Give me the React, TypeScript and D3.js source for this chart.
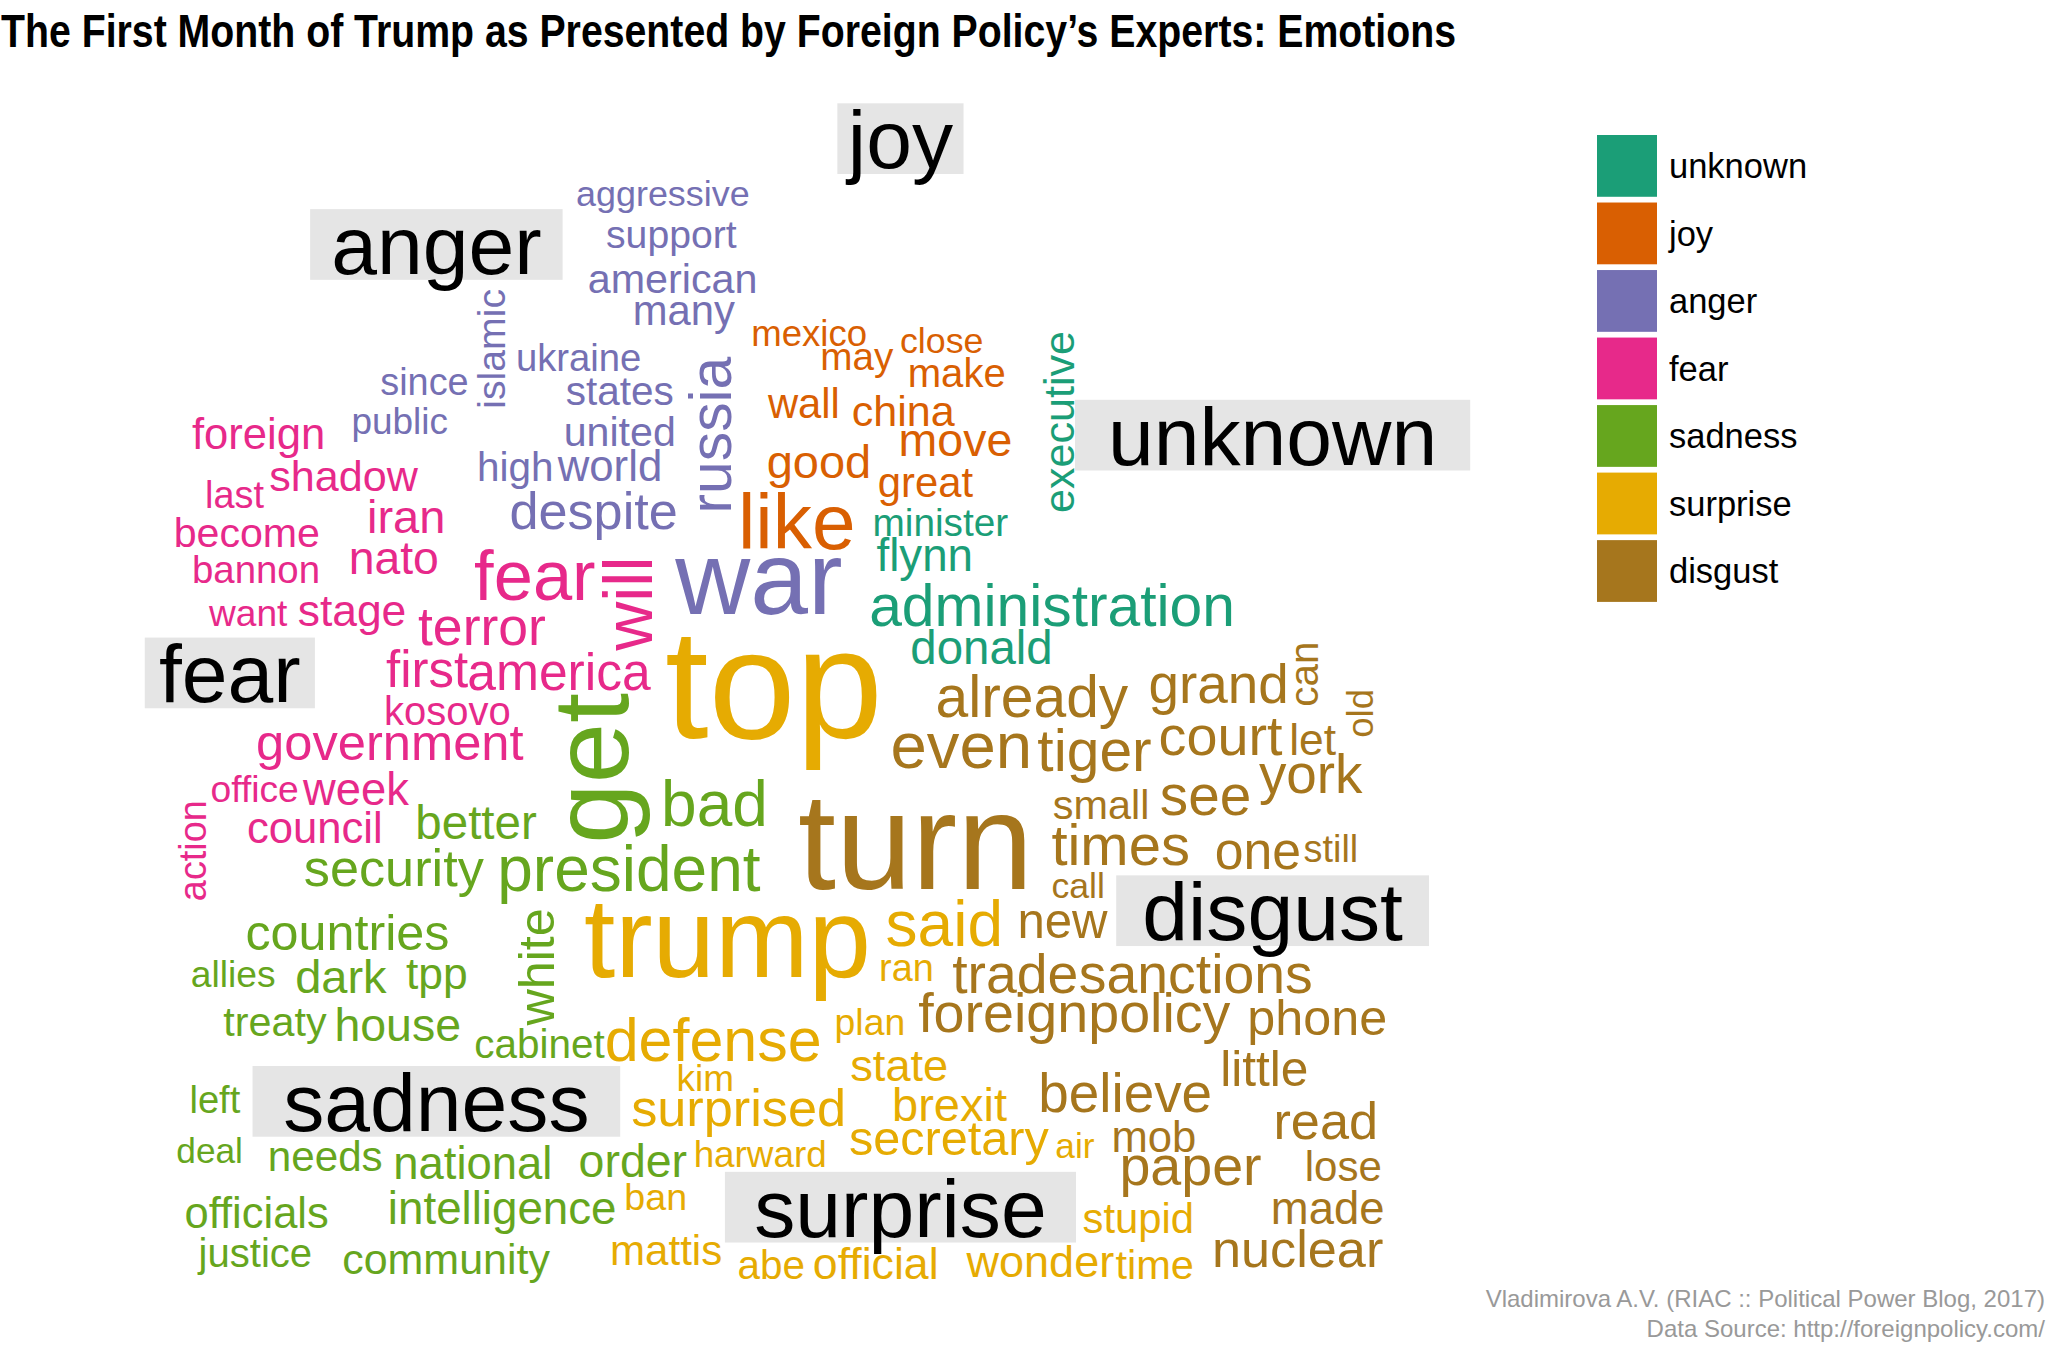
import React, { useEffect } from "react";
import * as d3 from "d3";

const W = 2048;
const H = 1355;
const REF_W = 1568;
const REF_H = 1037;

const TITLE = "The First Month of Trump as Presented by Foreign Policy\u2019s Experts: Emotions";
const CAPTION = ["Vladimirova A.V. (RIAC :: Political Power Blog, 2017)", "Data Source: http://foreignpolicy.com/"];

const emotions = ["unknown", "joy", "anger", "fear", "sadness", "surprise", "disgust"];
const palette = d3.schemeDark2.slice(0, 7);

// word, relative size (per emotion)
const unknownWords: [string, number][] = [
  ["executive", 33], ["minister", 29.7], ["flynn", 35], ["administration", 45], ["donald", 36.3],
];
const joyWords: [string, number][] = [
  ["mexico", 28], ["close", 27.4], ["may", 29.6], ["make", 30.7], ["wall", 32], ["china", 33],
  ["move", 35.6], ["good", 36], ["great", 32], ["like", 60],
];
const angerWords: [string, number][] = [
  ["aggressive", 27.5], ["support", 30], ["american", 31.6], ["many", 32], ["islamic", 30],
  ["ukraine", 29.3], ["since", 29], ["states", 31], ["public", 28.3], ["united", 31.5],
  ["russia", 45], ["high", 31], ["world", 33.5], ["despite", 40], ["war", 79.5],
];
const fearWords: [string, number][] = [
  ["foreign", 33.4], ["shadow", 33], ["last", 29], ["iran", 36], ["become", 31.5], ["nato", 35.5],
  ["bannon", 29.4], ["fear", 54], ["will", 52], ["want", 28.4], ["stage", 34], ["terror", 41],
  ["first", 39], ["america", 39.5], ["kosovo", 30.6], ["government", 38.8], ["office", 28.5],
  ["week", 34.7], ["council", 33.4], ["action", 29],
];
const sadnessWords: [string, number][] = [
  ["get", 83], ["bad", 49], ["better", 36.4], ["security", 40], ["president", 49], ["countries", 38.5],
  ["white", 38.5], ["allies", 28.5], ["dark", 36], ["tpp", 34], ["treaty", 31.6], ["house", 35.6],
  ["cabinet", 31], ["left", 29.2], ["deal", 27], ["needs", 32.3], ["national", 34.8], ["order", 35.6],
  ["officials", 33.3], ["intelligence", 35], ["justice", 30.7], ["community", 32.9],
];
const surpriseWords: [string, number][] = [
  ["top", 120], ["trump", 86], ["said", 49], ["ran", 29], ["defense", 46.7], ["plan", 28.6],
  ["state", 34.6], ["kim", 28.3], ["surprised", 40], ["brexit", 36], ["secretary", 37.2], ["air", 27],
  ["harward", 28.2], ["ban", 28.8], ["mattis", 32.2], ["abe", 31], ["official", 34.2], ["stupid", 32],
  ["wonder", 34.5], ["time", 31.8],
];
const disgustWords: [string, number][] = [
  ["turn", 104.5], ["already", 45], ["grand", 42], ["can", 31], ["old", 28], ["even", 50],
  ["tiger", 45], ["court", 42.7], ["let", 34], ["york", 42], ["small", 31.7], ["see", 43.4],
  ["times", 44.4], ["one", 39.6], ["still", 29], ["call", 27.3], ["new", 37.6], ["trade", 42.4],
  ["sanctions", 42.4], ["foreignpolicy", 42.6], ["phone", 38.5], ["little", 38], ["believe", 42],
  ["read", 40], ["mob", 33.4], ["paper", 42.6], ["lose", 32.2], ["made", 34.8], ["nuclear", 40],
];

const wordGroups = [unknownWords, joyWords, angerWords, fearWords, sadnessWords, surpriseWords, disgustWords];

// cloud layout (reference layout units): word, x, y, rotated
// horizontal: x = centre, y = baseline; rotated: x = baseline, y = centre
const placement: [string, number, number, number][] = [
  ["aggressive", 507.5, 158, 0], ["support", 514, 190, 0], ["american", 515, 224, 0], ["many", 523.5, 249, 0],
  ["islamic", 387, 267, 1], ["ukraine", 443, 284, 0], ["since", 325, 302, 0], ["states", 474.5, 310, 0],
  ["public", 306, 332, 0], ["united", 474.5, 341, 0], ["russia", 560, 333, 1], ["high", 394.5, 368, 0],
  ["world", 467, 368, 0], ["despite", 454.5, 405, 0], ["war", 581, 470, 0],
  ["mexico", 619.5, 265, 0], ["close", 721, 270, 0], ["may", 656, 283, 0], ["make", 732.5, 296, 0],
  ["wall", 615.5, 320, 0], ["china", 691.5, 326, 0], ["move", 731.5, 349, 0], ["good", 627, 366, 0],
  ["great", 708.5, 380, 0], ["like", 610, 420, 0],
  ["executive", 822, 323, 1], ["minister", 720, 410, 0], ["flynn", 708, 437, 0],
  ["administration", 805.5, 479, 0], ["donald", 751.5, 508, 0],
  ["foreign", 198, 344, 0], ["shadow", 263, 376, 0], ["last", 179.5, 389, 0], ["iran", 311, 408, 0],
  ["become", 189, 419, 0], ["nato", 301.5, 439, 0], ["bannon", 196, 446, 0], ["fear", 409.5, 459, 0],
  ["will", 499, 462, 1], ["want", 190, 479, 0], ["stage", 269.5, 479, 0], ["terror", 369, 494, 0],
  ["first", 327, 526, 0], ["america", 428, 528, 0], ["kosovo", 342.5, 555, 0], ["government", 298.5, 582, 0],
  ["office", 195, 614, 0], ["week", 272.5, 616, 0], ["council", 241, 645, 0], ["action", 158, 651, 1],
  ["get", 481, 588, 1], ["bad", 547, 632, 0], ["better", 364.5, 642, 0], ["security", 301.5, 678, 0],
  ["president", 481.5, 682, 0], ["countries", 266, 727, 0], ["white", 424, 740, 1], ["allies", 178.5, 755, 0],
  ["dark", 261, 760, 0], ["tpp", 334.5, 757, 0], ["treaty", 210.5, 793, 0], ["house", 304.5, 797, 0],
  ["cabinet", 413, 810, 0], ["left", 164.5, 852, 0], ["deal", 160.5, 890, 0], ["needs", 249, 896, 0],
  ["national", 362, 902, 0], ["order", 484.5, 901, 0], ["officials", 196.5, 940, 0],
  ["intelligence", 384.5, 937, 0], ["justice", 195.5, 970, 0], ["community", 341.5, 975, 0],
  ["top", 592.5, 565, 0], ["trump", 557, 748, 0], ["said", 723, 724, 0], ["ran", 694, 751, 0],
  ["defense", 546, 812, 0], ["plan", 666, 792, 0], ["state", 688.5, 827, 0], ["kim", 540, 835, 0],
  ["surprised", 565.5, 862, 0], ["brexit", 727, 858, 0], ["secretary", 726.5, 884, 0], ["air", 823, 886, 0],
  ["harward", 582, 893, 0], ["ban", 502, 926, 0], ["mattis", 510, 968, 0], ["abe", 590.5, 979, 0],
  ["official", 670.5, 979, 0], ["stupid", 871.5, 944, 0], ["wonder", 796.5, 977, 0], ["time", 884, 979, 0],
  ["turn", 701, 680, 0], ["already", 790, 549, 0], ["grand", 933, 538, 0], ["can", 1009, 516, 1],
  ["old", 1051, 546, 1], ["even", 736, 588, 0], ["tiger", 838, 590, 0], ["court", 934.5, 578, 0],
  ["let", 1005, 578, 0], ["york", 1003.5, 607, 0], ["small", 843, 627, 0], ["see", 923, 624, 0],
  ["times", 858, 662, 0], ["one", 963, 665, 0], ["still", 1019, 660, 0], ["call", 825.5, 687, 0],
  ["new", 813.5, 718, 0], ["trade", 777.3, 760, 0], ["sanctions", 915.5, 760, 0],
  ["foreignpolicy", 822.5, 790, 0], ["phone", 1008.5, 792, 0], ["little", 968, 831, 0],
  ["believe", 861.5, 851, 0], ["read", 1015, 872, 0], ["mob", 883.5, 882, 0], ["paper", 911.5, 907, 0],
  ["lose", 1028.5, 904, 0], ["made", 1016.5, 937, 0], ["nuclear", 993.5, 970, 0],
];

const LABEL_SIZE = 63;
const FONT = "'Liberation Sans', Arial, sans-serif";

function measure(text: string, size: number) {
  const c = document.createElement("canvas").getContext("2d")!;
  c.font = `${size}px 'Liberation Sans', Arial, sans-serif`;
  return c.measureText(text).width;
}

export default function App() {
  useEffect(() => {
    document.body.style.margin = "0";
  }, []);

  const sx = d3.scaleLinear().domain([0, REF_W]).range([0, W]);
  const sy = d3.scaleLinear().domain([0, REF_H]).range([0, H]);
  const fs = d3.scaleLinear().domain([0, REF_W]).range([0, W]);
  // unit square of the comparison cloud
  const ux = d3.scaleLinear().domain([0, 1]).range([sx(129.3), sx(1062.6)]);
  const uy = d3.scaleLinear().domain([0, 1]).range([sy(981), sy(49)]);
  const color = d3.scaleOrdinal<string, string>().domain(emotions).range(palette);

  const place = new Map(placement.map((p) => [p[0], p]));

  const words = wordGroups.flatMap((g, i) => g.map(([w, s]) => ({ w, s, e: emotions[i] })));

  const labelFs = fs(LABEL_SIZE);
  const thetaBins = d3.range(emotions.length + 1).map((i) => (i * 2 * Math.PI) / emotions.length);
  const labels = emotions.map((e, i) => {
    const th = (thetaBins[i] + thetaBins[i + 1]) / 2;
    const x = ux(0.5 + 0.45 * Math.cos(th));
    const y = uy(0.5 + 0.45 * Math.sin(th));
    const tw = measure(e, labelFs);
    const th2 = 0.716 * labelFs;
    return { e, x, y, tw, th: th2 };
  });

  const legendY = d3.scaleBand().domain(emotions).range([135, 135 + 66.7 * 7]).paddingInner(0.085);

  return (
    <svg width={W} height={H} style={{ display: "block", background: "#fff" }} fontFamily={FONT}>
      <rect x={0} y={0} width={W} height={H} fill="#fff" />
      <text x={1} y={47} fontSize={47} fontWeight="bold" textLength={1455} lengthAdjust="spacingAndGlyphs"
        fontFamily="'Liberation Sans Narrow', 'Liberation Sans', Arial, sans-serif" fill="#000">{TITLE}</text>

      {labels.map((l) => (
        <g key={"lab-" + l.e}>
          <rect x={l.x - 0.6 * l.tw} y={l.y - 0.6 * l.th} width={1.2 * l.tw} height={1.2 * l.th} fill="#e5e5e5" />
          <text x={l.x} y={l.y + l.th / 2} textAnchor="middle" fontSize={labelFs} fill="#000">{l.e}</text>
        </g>
      ))}

      {words.map(({ w, s, e }) => {
        const p = place.get(w);
        if (!p) return null;
        const size = fs(s);
        if (p[3]) {
          return (
            <text key={w} transform={`translate(${sx(p[1])},${sy(p[2])}) rotate(-90)`} textAnchor="middle"
              fontSize={size} fill={color(e)}>{w}</text>
          );
        }
        return (
          <text key={w} x={sx(p[1])} y={sy(p[2])} textAnchor="middle" fontSize={size} fill={color(e)}>{w}</text>
        );
      })}

      {emotions.map((e) => (
        <g key={"leg-" + e}>
          <rect x={1597} y={legendY(e)} width={60} height={legendY.bandwidth()} fill={color(e)} />
          <text x={1669} y={(legendY(e) as number) + 43} fontSize={34.5} fill="#000">{e}</text>
        </g>
      ))}

      {CAPTION.map((c, i) => (
        <text key={c} x={2045} y={1307 + i * 30} textAnchor="end" fontSize={24} fill="#999">{c}</text>
      ))}
    </svg>
  );
}
